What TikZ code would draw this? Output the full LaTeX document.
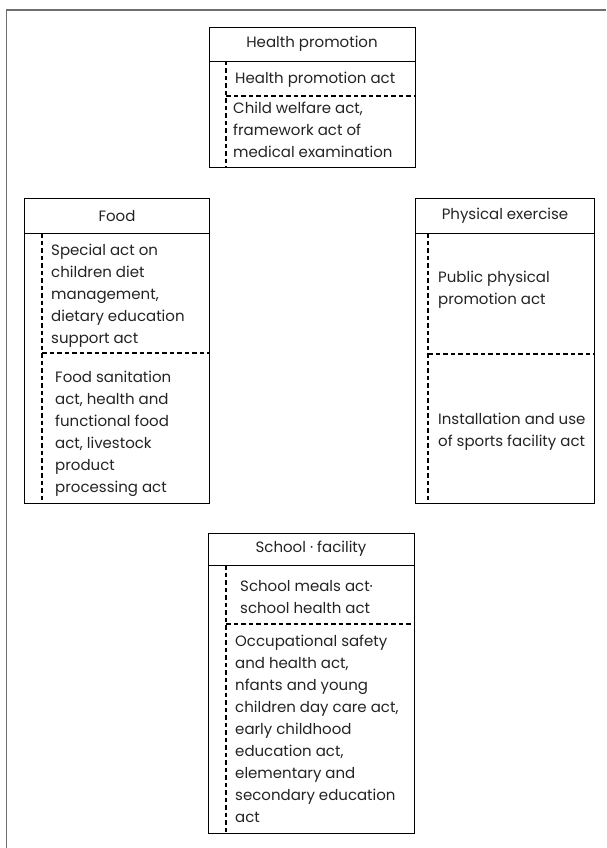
\documentclass[tikz,border=0pt]{standalone}
\usepackage{fontspec}
\setmainfont{Poppins}
\definecolor{txt}{RGB}{35,35,35}
\definecolor{frm}{RGB}{110,110,110}
\begin{document}
\begin{tikzpicture}[x=1pt,y=-1pt,
  box/.style={draw=black, line width=0.9pt, rectangle, inner sep=0pt, anchor=north west},
  ttl/.style={font=\fontsize{15}{17}\selectfont, text=txt, inner sep=0pt},
  body/.style={font=\fontsize{15}{22}\selectfont, align=left, anchor=west, inner sep=0pt, text=txt},
  dsh/.style={dash pattern=on 4.5pt off 3pt, line width=1.6pt},
  sep/.style={line width=0.9pt}]
\useasboundingbox (0,0) rectangle (606,848);
% outer frame
\coordinate (fbl) at (6.5,848);
\coordinate (ftl) at (6.5,10);
\coordinate (ftr) at (606,10);
\draw[frm, line width=1.5pt] (fbl) -- (ftl) -- (ftr);

% Health promotion
\node[box, minimum width=206pt, minimum height=140pt] (hp) at (209,27) {};
\coordinate (hpT) at (209,61);
\draw[sep] (hpT) -- (hpT -| hp.east);
\node[ttl] (hpt) at (312,44) {Health promotion};
\coordinate (hpV) at (226,61);
\draw[dsh] (hpV) -- (hpV |- hp.south);
\coordinate (hpH) at (226,96);
\draw[dsh] (hpH) -- (hpH -| hp.east);
\node[body] (hp1) at (235,80) {Health promotion act};
\node[body] (hp2) at (233,130) {Child welfare act,\\framework act of\\medical examination};

% Food
\node[box, minimum width=185pt, minimum height=305pt] (fd) at (24,198) {};
\coordinate (fdT) at (24,233);
\draw[sep] (fdT) -- (fdT -| fd.east);
\node[ttl] (fdt) at (117,216) {Food};
\coordinate (fdV) at (42,233);
\draw[dsh] (fdV) -- (fdV |- fd.south);
\coordinate (fdH) at (42,353);
\draw[dsh] (fdH) -- (fdH -| fd.east);
\node[body] (fd1) at (51,296) {Special act on\\children diet\\management,\\dietary education\\support act};
\node[body] (fd2) at (55,434) {Food sanitation\\act, health and\\functional food\\act, livestock\\product\\processing act};

% Physical exercise
\node[box, minimum width=179pt, minimum height=305pt] (ph) at (415,198) {};
\coordinate (phT) at (415,233);
\draw[sep] (phT) -- (phT -| ph.east);
\node[ttl] (pht) at (505,216) {Physical exercise};
\coordinate (phV) at (428,233);
\draw[dsh] (phV) -- (phV |- ph.south);
\coordinate (phH) at (428,354);
\draw[dsh] (phH) -- (phH -| ph.east);
\node[body] (ph1) at (438,290) {Public physical\\promotion act};
\node[body] (ph2) at (438,432) {Installation and use\\of sports facility act};

% School facility
\node[box, minimum width=206pt, minimum height=300pt] (sc) at (208,533) {};
\coordinate (scT) at (208,565);
\draw[sep] (scT) -- (scT -| sc.east);
\node[ttl] (sct) at (311,549) {School · facility};
\coordinate (scV) at (226,565);
\draw[dsh] (scV) -- (scV |- sc.south);
\coordinate (scH) at (226,624);
\draw[dsh] (scH) -- (scH -| sc.east);
\node[body] (sc1) at (240,597) {School meals act·\\school health act};
\node[body] (sc2) at (235,729) {Occupational safety\\and health act,\\nfants and young\\children day care act,\\early childhood\\education act,\\elementary and\\secondary education\\act};
\end{tikzpicture}
\end{document}
